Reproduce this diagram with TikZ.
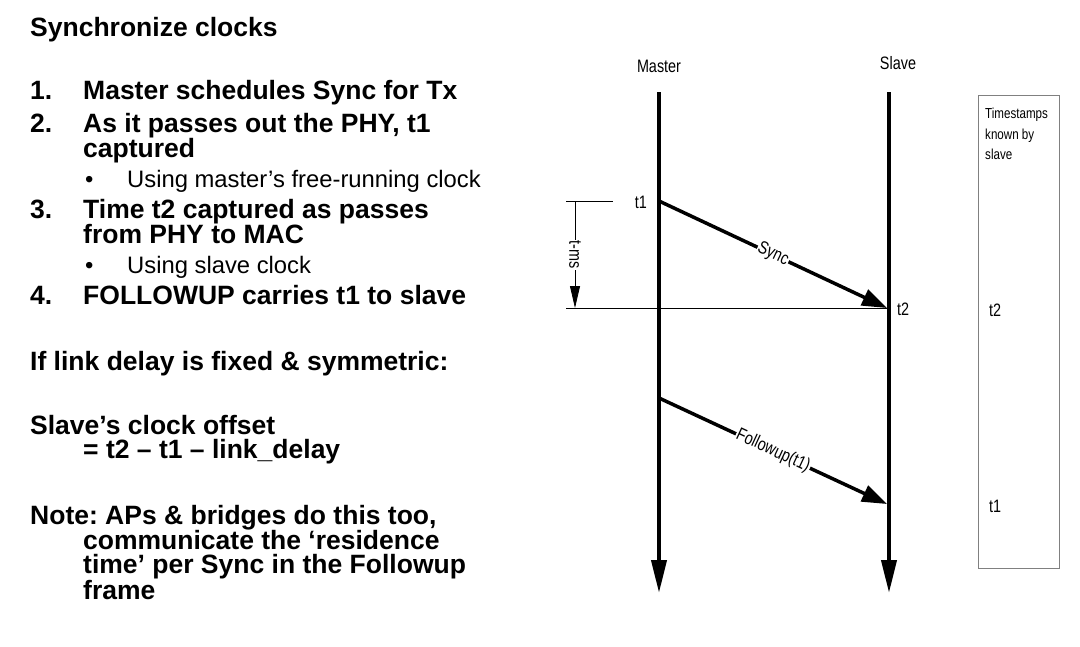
\documentclass[tikz,border=0pt]{standalone}
\usepackage{fontspec}
\setmainfont{Liberation Sans}
\newfontfamily\narrowfont[FakeStretch=0.8]{Liberation Sans}
\usetikzlibrary{arrows.meta, positioning}
\frenchspacing

\begin{document}
\begin{tikzpicture}[x=1pt, y=-1pt, every node/.style={inner sep=0pt},
    big/.style={anchor=base west, font=\fontsize{26.5}{26}\selectfont\bfseries},
    small/.style={anchor=base west, font=\fontsize{23.8}{24}\selectfont},
    lbl/.style={font=\narrowfont\fontsize{18}{20}\selectfont},
    life/.style={line width=4pt, -{Triangle[length=33pt, width=15pt]}},
    msg/.style={line width=3.5pt, -{Triangle[length=25pt, width=17pt]}}]
    \useasboundingbox (0,0) rectangle (1080,646);

    % Left-hand text
    \node[big] (title) at (30,36) {Synchronize clocks};
    \node[big] (n1) at (30,99) {1.};
    \node[big] (i1) at (83,99) {Master schedules Sync for Tx};
    \node[big] (n2) at (30,132) {2.};
    \node[big] (i2a) at (83,132) {As it passes out the PHY, t1};
    \node[big] (i2b) at (83,157) {captured};
    \node[small] (b2) at (85,187) {\textbullet};
    \node[small] (s2) at (127,187) {Using master’s free-running clock};
    \node[big] (n3) at (30,218) {3.};
    \node[big] (i3a) at (83,218) {Time t2 captured as passes};
    \node[big] (i3b) at (83,243) {from PHY to MAC};
    \node[small] (b3) at (85,273) {\textbullet};
    \node[small] (s3) at (127,273) {Using slave clock};
    \node[big] (n4) at (30,304) {4.};
    \node[big] (i4) at (83,304) {FOLLOWUP carries t1 to slave};
    \node[big] (cond) at (30,370) {If link delay is fixed \& symmetric:};
    \node[big] (off1) at (30,434) {Slave’s clock offset};
    \node[big] (off2) at (83,458) {= t2 – t1 – link\_delay};
    \node[big] (note1) at (30,524) {Note: APs \& bridges do this too,};
    \node[big] (note2) at (83,549) {communicate the ‘residence};
    \node[big] (note3) at (83,573) {time’ per Sync in the Followup};
    \node[big] (note4) at (83,599) {frame};

    % Lifelines
    \node[lbl, anchor=base] (master) at (659,72) {Master};
    \node[lbl, anchor=base] (slave) at (898,69) {Slave};
    \coordinate (mtop) at (659,92);
    \coordinate (mbot) at (659,593);
    \coordinate (stop) at (889,92);
    \coordinate (sbot) at (889,593);
    \draw[life] (mtop) -- (mbot);
    \draw[life] (stop) -- (sbot);

    % Messages
    \coordinate (t1m) at (659,201);
    \coordinate (t2s) at (887,308);
    \coordinate (fum) at (659,398);
    \coordinate (fus) at (887,504);
    \node[lbl, anchor=base east] (t1lbl) at (647,208) {t1};
    \node[lbl, anchor=base west] (t2lbl) at (897,315) {t2};
    \draw[msg] (t1m) -- node[lbl, sloped, fill=white, inner sep=1pt] (synclbl) {Sync} (t2s);
    \draw[msg] (fum) -- node[lbl, sloped, fill=white, inner sep=1pt] (fulbl) {Followup(t1)} (fus);

    % t-ms interval
    \coordinate (tickl) at (566,201);
    \coordinate (tickr) at (613,201);
    \coordinate (basel) at (566,308);
    \coordinate (tmtop) at (575,201);
    \coordinate (tmbot) at (575,308);
    \draw[line width=0.8pt] (tickl) -- (tickr);
    \draw[line width=0.8pt] (basel) -- (t2s);
    \draw[line width=0.8pt, -{Triangle[length=22pt, width=10pt]}] (tmtop) -- node[lbl, rotate=-90, fill=white, inner sep=1pt] (tms) {t-ms} (tmbot);

    % Timestamps known by slave
    \node[draw=gray, line width=1pt, anchor=north west, minimum width=81pt, minimum height=473pt] (known) at (978,95) {};
    \node[anchor=north west, align=left, font=\narrowfont\fontsize{14.5}{20.5}\selectfont] (knownlbl) at (985,108) {Timestamps\\known by\\slave};
    \node[lbl, anchor=base west] (kt2) at (989,316) {t2};
    \node[lbl, anchor=base west] (kt1) at (989,512) {t1};
\end{tikzpicture}
\end{document}
